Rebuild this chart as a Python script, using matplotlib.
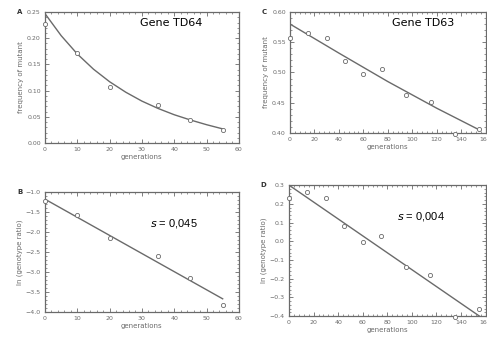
import matplotlib
matplotlib.use("Agg")
import matplotlib.pyplot as plt
from matplotlib.ticker import MultipleLocator

# panel A: frequency of mutant, gene TD64
a_gen = [0, 10, 20, 35, 45, 55]
a_freq = [0.228, 0.172, 0.107, 0.072, 0.044, 0.024]
a_fit_gen = [0, 5, 10, 15, 20, 25, 30, 35, 40, 45, 50, 55]
a_fit = [0.247, 0.205, 0.170, 0.141, 0.117, 0.097, 0.080, 0.066, 0.054, 0.044, 0.035, 0.027]

# panel B: ln genotype ratio, gene TD64
b_gen = [0, 10, 20, 35, 45, 55]
b_ln = [-1.23, -1.58, -2.15, -2.60, -3.14, -3.83]
b_fit_gen = [0, 55]
b_fit = [-1.18, -3.67]

# panel C: frequency of mutant, gene TD63
c_gen = [0, 15, 30, 45, 60, 75, 95, 115, 135, 155]
c_freq = [0.557, 0.565, 0.557, 0.519, 0.497, 0.506, 0.462, 0.452, 0.398, 0.407]
c_fit_gen = [0, 40, 80, 120, 155]
c_fit = [0.580, 0.532, 0.485, 0.441, 0.405]

# panel D: ln genotype ratio, gene TD63
d_gen = [0, 15, 30, 45, 60, 75, 95, 115, 135, 155]
d_ln = [0.232, 0.263, 0.233, 0.080, -0.003, 0.028, -0.136, -0.178, -0.405, -0.362]
d_fit_gen = [0, 155]
d_fit = [0.300, -0.400]

grey = "#6a6a6a"
plt.rcParams["font.family"] = "DejaVu Sans"

fig = plt.figure(figsize=(4.87, 3.41), dpi=100)
axA = fig.add_axes([0.0924, 0.5806, 0.398, 0.384])
axC = fig.add_axes([0.5955, 0.610, 0.4015, 0.355])
axB = fig.add_axes([0.0924, 0.085, 0.398, 0.352])
axD = fig.add_axes([0.5935, 0.073, 0.4035, 0.384])


def style(ax, xmax, xstep, ylim, ystep, ylabel, letter):
    ax.set_xlim(0, xmax)
    ax.set_ylim(*ylim)
    ax.xaxis.set_major_locator(MultipleLocator(xstep))
    ax.xaxis.set_minor_locator(MultipleLocator(xstep / 5))
    ax.yaxis.set_major_locator(MultipleLocator(ystep))
    ax.yaxis.set_minor_locator(MultipleLocator(ystep / 5))
    ax.tick_params(which="both", direction="in", top=True, right=True,
                   colors=grey, labelsize=4.5, pad=3)
    ax.tick_params(which="major", length=3, width=0.6)
    ax.tick_params(which="minor", length=1.5, width=0.5)
    for sp in ax.spines.values():
        sp.set_color(grey)
        sp.set_linewidth(0.9)
    ax.set_xlabel("generations", fontsize=5, color=grey, labelpad=1)
    ax.set_ylabel(ylabel, fontsize=5, color=grey, labelpad=2)
    ax.text(-0.145, 1.0, letter, transform=ax.transAxes, fontsize=5,
            fontweight="bold", color="#333333", ha="left", va="center")


mk = dict(marker="o", linestyle="none", markersize=3, markerfacecolor="white",
          markeredgecolor=grey, markeredgewidth=0.6, clip_on=False, zorder=3)

axA.plot(a_fit_gen, a_fit, color=grey, lw=1.0)
axA.plot(a_gen, a_freq, **mk)
style(axA, 60, 10, (0, 0.25), 0.05, "frequency of mutant", "A")
axA.text(0.49, 0.89, "Gene TD64", transform=axA.transAxes,
         fontsize=8, color="black")

axC.plot(c_fit_gen, c_fit, color=grey, lw=1.0)
axC.plot(c_gen, c_freq, **mk)
style(axC, 160, 20, (0.4, 0.6), 0.05, "frequency of mutant", "C")
axC.text(0.52, 0.88, "Gene TD63", transform=axC.transAxes, fontsize=8,
         color="black")

axB.plot(b_fit_gen, b_fit, color=grey, lw=1.0)
axB.plot(b_gen, b_ln, **mk)
style(axB, 60, 10, (-4, -1), 0.5, "ln (genotype ratio)", "B")
axB.text(0.54, 0.71, "$s$ = 0,045", transform=axB.transAxes, fontsize=8,
         color="black", family="Liberation Sans")

axD.plot(d_fit_gen, d_fit, color=grey, lw=1.0)
axD.plot(d_gen, d_ln, **mk)
style(axD, 160, 20, (-0.4, 0.3), 0.1, "ln (genotype ratio)", "D")
axD.text(0.55, 0.74, "$s$ = 0,004", transform=axD.transAxes, fontsize=8,
         color="black", family="Liberation Sans")

fig.savefig("out.png", dpi=100)
